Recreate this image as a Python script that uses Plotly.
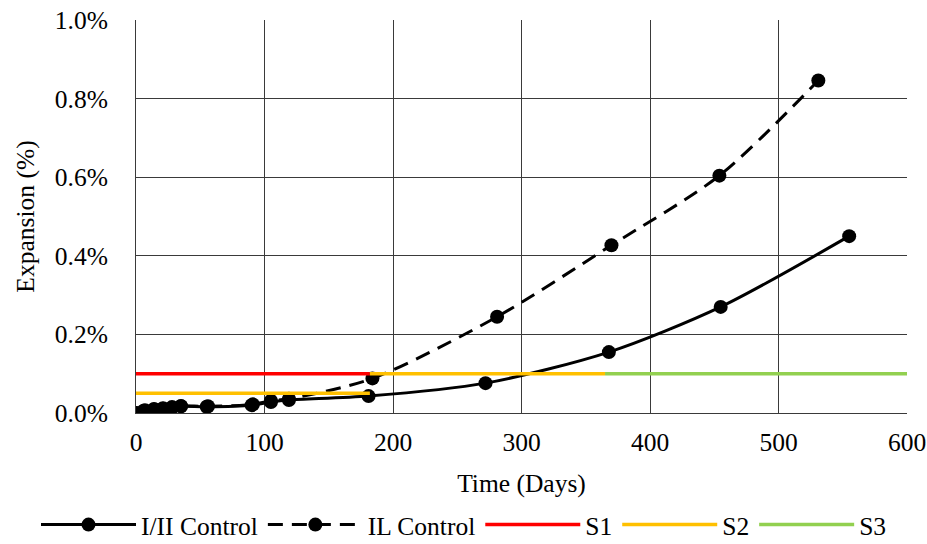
import plotly.graph_objects as go

# I/II Control
days_12 = [0, 6, 14, 21, 28, 35, 55, 90, 105, 119, 181, 272, 368, 455, 555]
exp_12 = [0.000, 0.006, 0.009, 0.011, 0.013, 0.017, 0.016, 0.020, 0.028, 0.033, 0.043, 0.076, 0.155, 0.270, 0.450]

# IL Control
days_il = [0, 7, 14, 21, 28, 35, 56, 91, 105, 119, 184, 281, 370, 454, 531]
exp_il = [0.000, 0.007, 0.010, 0.012, 0.015, 0.018, 0.017, 0.022, 0.031, 0.036, 0.088, 0.245, 0.427, 0.604, 0.846]

# Limits
s1_days = [0, 182]
s1_vals = [0.1, 0.1]
s2_days = [0, 182, None, 182, 365]
s2_vals = [0.05, 0.05, None, 0.1, 0.1]
s3_days = [365, 600]
s3_vals = [0.1, 0.1]

x_ticks = [0, 100, 200, 300, 400, 500, 600]
y_ticks = [0.0, 0.2, 0.4, 0.6, 0.8, 1.0]

font = "Liberation Serif, Times New Roman, serif"
FS = 25.5
W, H = 927, 544
L, R, T, B = 136, 20, 20, 131
PW, PH = W - L - R, H - T - B

fig = go.Figure()
fig.add_trace(go.Scatter(x=days_12, y=exp_12, name="I/II Control", mode="lines+markers",
                         line=dict(color="black", width=3, shape="spline", smoothing=0.8),
                         marker=dict(color="black", size=14)))
fig.add_trace(go.Scatter(x=days_il, y=exp_il, name="IL Control", mode="lines+markers",
                         line=dict(color="black", width=3, dash="15px,9px", shape="spline", smoothing=0.8),
                         marker=dict(color="black", size=14)))
fig.add_trace(go.Scatter(x=s1_days, y=s1_vals, name="S1", mode="lines",
                         line=dict(color="#FF0000", width=3.5)))
fig.add_trace(go.Scatter(x=s2_days, y=s2_vals, name="S2", mode="lines", connectgaps=False,
                         line=dict(color="#FFC000", width=3.5)))
fig.add_trace(go.Scatter(x=s3_days, y=s3_vals, name="S3", mode="lines",
                         line=dict(color="#92D050", width=3.5)))

fig.update_layout(
    width=W, height=H,
    margin=dict(l=L, r=R, t=T, b=B, autoexpand=False),
    paper_bgcolor="white", plot_bgcolor="white",
    font=dict(family=font, size=FS, color="black"),
    showlegend=True,
    legend=dict(orientation="h", xref="paper", yref="paper",
                x=(36 - L) / PW, xanchor="left",
                y=(H - B - 525) / PH, yanchor="middle",
                itemwidth=95, bgcolor="rgba(0,0,0,0)",
                font=dict(family=font, size=FS, color="black")),
    xaxis=dict(range=[0, 600], tickvals=x_ticks, ticktext=[str(v) for v in x_ticks],
               showgrid=True, gridcolor="#3a3a3a", gridwidth=1, zeroline=False,
               showline=True, linecolor="#3a3a3a", linewidth=1, automargin=False,
               ticks="outside", ticklen=6, tickcolor="white",
               tickfont=dict(family=font, size=FS),
               title=dict(text="Time (Days)", font=dict(family=font, size=FS), standoff=18)),
    yaxis=dict(range=[0, 1.0], tickvals=y_ticks, ticktext=[f"{v:.1f}%" for v in y_ticks],
               showgrid=True, gridcolor="#3a3a3a", gridwidth=1, zeroline=False,
               showline=True, linecolor="#3a3a3a", linewidth=1, automargin=False,
               ticks="outside", ticklen=22, tickcolor="white",
               tickfont=dict(family=font, size=FS),
               title=dict(text="Expansion (%)", font=dict(family=font, size=FS), standoff=12)),
)

fig.write_html("out.html", config={"displayModeBar": False},
               post_script="document.body.style.margin='0';")
